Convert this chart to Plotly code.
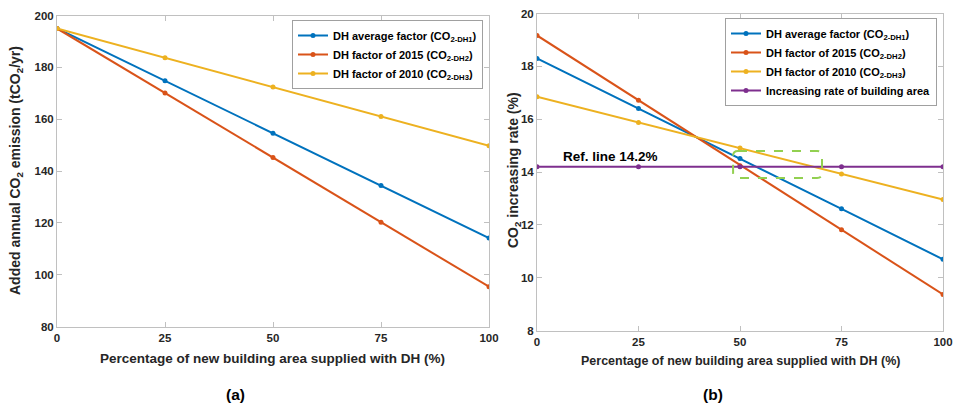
import plotly.graph_objects as go

x_pct = [0, 25, 50, 75, 100]

# (a) Added annual CO2 emission (tCO2/yr)
a_dh1 = [195.0, 174.8, 154.6, 134.4, 114.2]
a_dh2 = [195.0, 170.1, 145.2, 120.3, 95.4]
a_dh3 = [195.0, 183.7, 172.4, 161.1, 149.8]

# (b) CO2 increasing rate (%)
b_dh1 = [18.30, 16.41, 14.51, 12.61, 10.70]
b_dh2 = [19.17, 16.72, 14.24, 11.82, 9.37]
b_dh3 = [16.85, 15.88, 14.91, 13.93, 12.96]
b_area = [14.2, 14.2, 14.2, 14.2, 14.2]

names = ["DH average factor (CO<sub>2-DH1</sub>)",
         "DH factor of 2015 (CO<sub>2-DH2</sub>)",
         "DH factor of 2010 (CO<sub>2-DH3</sub>)",
         "Increasing rate of building area"]
colors = ["#0072BD", "#D95319", "#EDB120", "#7E2F8E"]

W, H = 955, 417
def px(x):
    return x / W
def py(y):
    return 1 - y / H

fig = go.Figure()
for vals, nm, c in zip([a_dh1, a_dh2, a_dh3], names[:3], colors[:3]):
    fig.add_trace(go.Scatter(x=x_pct, y=vals, name=nm, mode="lines+markers",
                             line=dict(color=c, width=2), marker=dict(size=5, color=c),
                             xaxis="x", yaxis="y", legend="legend"))
for vals, nm, c in zip([b_dh1, b_dh2, b_dh3, b_area], names, colors):
    fig.add_trace(go.Scatter(x=x_pct, y=vals, name=nm, mode="lines+markers",
                             line=dict(color=c, width=2), marker=dict(size=5, color=c),
                             xaxis="x2", yaxis="y2", legend="legend2"))

axcol = "#c0c0c0"
tickfont = dict(family="Arial, Liberation Sans", size=11.5, color="#262626", weight="bold")
common = dict(showline=True, linecolor=axcol, linewidth=1, mirror="ticks", ticks="inside",
              ticklen=5, tickcolor=axcol, showgrid=False, zeroline=False, tickfont=tickfont,
              automargin=False)

legfont = dict(family="Arial, Liberation Sans", size=11, color="black", weight="bold")
fig.update_layout(
    width=W, height=H, margin=dict(l=0, r=0, t=0, b=0, autoexpand=False),
    paper_bgcolor="white", plot_bgcolor="white",
    font=dict(family="Arial, Liberation Sans", size=12, color="#262626", weight="bold"),
    xaxis=dict(domain=[px(57), px(489)], range=[0, 100], tickvals=x_pct, anchor="y", **common),
    yaxis=dict(domain=[py(326.7), py(15.5)], range=[80, 200], tickvals=list(range(80, 201, 20)),
               anchor="x", **common),
    xaxis2=dict(domain=[px(537), px(943)], range=[0, 100], tickvals=x_pct, anchor="y2", **common),
    yaxis2=dict(domain=[py(330.7), py(13.5)], range=[8, 20], tickvals=list(range(8, 21, 2)),
                anchor="x2", **common),
    legend=dict(x=px(483), y=py(20), xanchor="right", yanchor="top", bgcolor="white",
                bordercolor="#a0a0a0", borderwidth=1, tracegroupgap=0,
                font=legfont, itemwidth=30),
    legend2=dict(x=px(937), y=py(18), xanchor="right", yanchor="top", bgcolor="white",
                 bordercolor="#a0a0a0", borderwidth=1, tracegroupgap=0,
                 font=legfont, itemwidth=30),
    showlegend=True,
)

ytitle_font = dict(family="Arial, Liberation Sans", size=14, color="#262626", weight="bold")
xtitle_font_a = dict(family="Arial, Liberation Sans", size=13.5, color="#262626", weight="bold")
xtitle_font_b = dict(family="Arial, Liberation Sans", size=12.5, color="#262626", weight="bold")
fig.add_annotation(text="Added annual CO<sub>2</sub> emission (tCO<sub>2</sub>/yr)",
                   xref="paper", yref="paper", x=px(16), y=py(171), textangle=-90,
                   showarrow=False, font=ytitle_font, xanchor="center", yanchor="middle")
fig.add_annotation(text="CO<sub>2</sub> increasing rate (%)",
                   xref="paper", yref="paper", x=px(514), y=py(170), textangle=-90,
                   showarrow=False, font=ytitle_font, xanchor="center", yanchor="middle")
fig.add_annotation(text="Percentage of new building area supplied with DH (%)",
                   xref="paper", yref="paper", x=px(272.5), y=py(358), showarrow=False,
                   font=xtitle_font_a, xanchor="center", yanchor="middle")
fig.add_annotation(text="Percentage of new building area supplied with DH (%)",
                   xref="paper", yref="paper", x=px(740), y=py(361), showarrow=False,
                   font=xtitle_font_b, xanchor="center", yanchor="middle")
fig.add_annotation(text="(a)", xref="paper", yref="paper", x=px(224), y=py(405),
                   showarrow=False, font=dict(size=15.5, color="black", weight="bold"))
fig.add_annotation(text="(b)", xref="paper", yref="paper", x=px(725), y=py(405),
                   showarrow=False, font=dict(size=15.5, color="black", weight="bold"))
fig.add_annotation(text="Ref. line 14.2%", xref="x2", yref="y2", x=18.2, y=14.6,
                   showarrow=False, font=dict(size=13.5, color="black", weight="bold"))

# rounded dashed highlight box
bx0, bx1, by0, by1 = 48.3, 70.2, 13.78, 14.80
rx, ry = 1.2, 0.18
path = (f"M {bx0+rx},{by1} L {bx1-rx},{by1} Q {bx1},{by1} {bx1},{by1-ry} "
        f"L {bx1},{by0+ry} Q {bx1},{by0} {bx1-rx},{by0} L {bx0+rx},{by0} "
        f"Q {bx0},{by0} {bx0},{by0+ry} L {bx0},{by1-ry} Q {bx0},{by1} {bx0+rx},{by1} Z")
fig.add_shape(type="path", xref="x2", yref="y2", path=path,
              line=dict(color="#92D050", width=2, dash="dash"), fillcolor="rgba(0,0,0,0)")

fig.write_html("out.html")
